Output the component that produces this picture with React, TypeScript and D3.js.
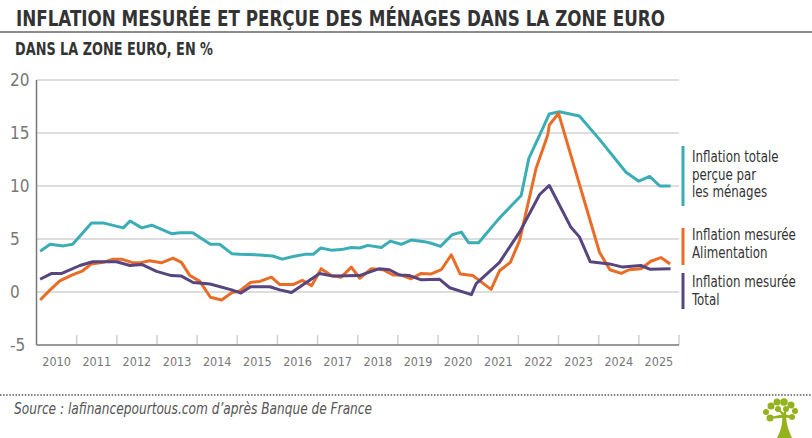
import { useRef, useEffect } from "react";
import * as d3 from "d3";

// Perceived inflation (households)
const perceivedDates = [
  2010.09, 2010.34, 2010.67, 2010.9, 2011.37, 2011.68, 2012.16, 2012.33, 2012.62, 2012.87,
  2013.36, 2013.57, 2013.89, 2014.33, 2014.56, 2014.87, 2015.06, 2015.56, 2015.88, 2016.12,
  2016.39, 2016.68, 2016.89, 2017.08, 2017.34, 2017.59, 2017.84, 2018.05, 2018.25, 2018.59,
  2018.81, 2019.08, 2019.33, 2019.66, 2019.83, 2020.06, 2020.35, 2020.58, 2020.76, 2021.01,
  2021.51, 2022.07, 2022.26, 2022.53, 2022.77, 2023.02, 2023.52, 2024.02, 2024.68, 2025.0,
  2025.27, 2025.52, 2025.79,
];
const perceivedValues = [
  3.85, 4.5, 4.35, 4.5, 6.5, 6.5, 6.05, 6.7, 6.05, 6.3,
  5.5, 5.6, 5.6, 4.5, 4.5, 3.6, 3.55, 3.5, 3.4, 3.1,
  3.35, 3.55, 3.55, 4.15, 3.95, 4.0, 4.2, 4.15, 4.4, 4.2,
  4.8, 4.5, 4.9, 4.75, 4.6, 4.3, 5.4, 5.65, 4.65, 4.65,
  6.9, 9.1, 12.6, 14.8, 16.8, 17.0, 16.6, 14.4, 11.3, 10.45,
  10.9, 10.0, 10.0,
];

// Measured inflation, food
const foodDates = [
  2010.09, 2010.34, 2010.58, 2010.88, 2011.15, 2011.37, 2011.66, 2011.91, 2012.12, 2012.41,
  2012.57, 2012.81, 2013.11, 2013.4, 2013.61, 2013.82, 2014.07, 2014.33, 2014.61, 2014.87,
  2015.06, 2015.33, 2015.56, 2015.85, 2016.06, 2016.39, 2016.62, 2016.85, 2017.09, 2017.34,
  2017.59, 2017.84, 2018.05, 2018.34, 2018.63, 2018.88, 2019.08, 2019.33, 2019.58, 2019.83,
  2020.08, 2020.33, 2020.55, 2020.86, 2021.32, 2021.53, 2021.8, 2022.03, 2022.44, 2022.73,
  2022.77, 2023.0, 2024.02, 2024.28, 2024.56, 2024.76, 2025.05, 2025.3, 2025.55, 2025.78,
];
const foodValues = [
  -0.75, 0.2, 1.05, 1.6, 2.0, 2.65, 2.8, 3.1, 3.1, 2.75,
  2.75, 2.95, 2.75, 3.2, 2.8, 1.55, 1.0, -0.5, -0.75, -0.05,
  0.1, 0.9, 1.0, 1.4, 0.7, 0.7, 1.1, 0.6, 2.2, 1.55,
  1.4, 2.35, 1.3, 2.2, 2.1, 1.6, 1.6, 1.25, 1.75, 1.7,
  2.1, 3.5, 1.7, 1.55, 0.25, 2.0, 2.8, 4.85, 11.65, 14.8,
  15.75, 16.85, 3.75, 2.1, 1.75, 2.1, 2.2, 2.9, 3.25, 2.65,
];

// Measured inflation, total
const totalDates = [
  2010.09, 2010.38, 2010.63, 2011.08, 2011.4, 2011.99, 2012.33, 2012.62, 2012.99, 2013.36,
  2013.61, 2013.9, 2014.32, 2014.86, 2015.09, 2015.33, 2015.81, 2016.06, 2016.35, 2017.05,
  2017.38, 2018.04, 2018.54, 2018.79, 2019.04, 2019.29, 2019.58, 2020.04, 2020.29, 2020.83,
  2020.95, 2021.53, 2022.03, 2022.53, 2022.77, 2023.31, 2023.52, 2023.79, 2024.27, 2024.6,
  2025.05, 2025.27, 2025.79,
];
const totalValues = [
  1.2, 1.75, 1.75, 2.5, 2.85, 2.85, 2.5, 2.6, 1.95, 1.55,
  1.5, 0.9, 0.75, 0.2, -0.1, 0.5, 0.5, 0.2, -0.05, 1.75,
  1.5, 1.55, 2.2, 2.1, 1.6, 1.55, 1.15, 1.2, 0.4, -0.25,
  0.8, 2.8, 5.65, 9.2, 10.05, 6.1, 5.2, 2.85, 2.65, 2.35,
  2.5, 2.15, 2.2,
];

const yearLabels = [
  2010, 2011, 2012, 2013, 2014, 2015, 2016, 2017, 2018, 2019, 2020, 2021, 2022, 2023, 2024, 2025,
];
const yTicks = [20, 15, 10, 5, 0, -5];

const TEAL = "#3badb6";
const ORANGE = "#e96d26";
const PURPLE = "#57457f";

const NARROW = "'Liberation Sans Narrow', 'DejaVu Sans Condensed', 'Arial Narrow', Lato, sans-serif";

export default function App() {
  const svgRef = useRef<SVGSVGElement>(null);
  const width = 812;
  const height = 438;

  useEffect(() => {
    if (!svgRef.current) return;
    const svg = d3.select(svgRef.current);
    svg.selectAll("*").remove();

    const x = d3.scaleLinear().domain([2010, 2026]).range([36.5, 679]);
    const y = d3.scaleLinear().domain([-5, 20]).range([345, 80]);

    // Title block
    svg.append("text")
      .attr("x", 16).attr("y", 26)
      .attr("font-family", NARROW).attr("font-weight", "bold")
      .attr("font-size", 21).attr("fill", "#333")
      .attr("textLength", 649).attr("lengthAdjust", "spacingAndGlyphs")
      .text("INFLATION MESURÉE ET PERÇUE DES MÉNAGES DANS LA ZONE EURO");
    svg.append("line")
      .attr("x1", 0).attr("x2", width).attr("y1", 32).attr("y2", 32)
      .attr("stroke", "#666").attr("stroke-width", 1.5);
    svg.append("text")
      .attr("x", 15).attr("y", 55)
      .attr("font-family", NARROW).attr("font-weight", "bold")
      .attr("font-size", 17).attr("fill", "#333")
      .attr("textLength", 198).attr("lengthAdjust", "spacingAndGlyphs")
      .text("DANS LA ZONE EURO, EN %");

    // Grid
    const grid = svg.append("g");
    grid.selectAll("line")
      .data(yTicks.filter((t) => t > -5))
      .join("line")
      .attr("x1", x(2010)).attr("x2", x(2026))
      .attr("y1", (d) => y(d)).attr("y2", (d) => y(d))
      .attr("stroke", "#d2d2d2").attr("stroke-width", 1.5);

    // Y labels, left aligned like the original
    svg.append("g").selectAll("text")
      .data(yTicks)
      .join("text")
      .attr("x", 10).attr("y", (d) => y(d))
      .attr("dy", "0.35em").attr("text-anchor", "start")
      .attr("font-family", NARROW).attr("font-size", 17).attr("fill", "#777")
      .text((d) => (d < 0 ? `-${Math.abs(d)}` : d));

    // X ticks (year boundaries)
    svg.append("g").selectAll("line")
      .data(d3.range(2011, 2027))
      .join("line")
      .attr("x1", (d) => x(d)).attr("x2", (d) => x(d))
      .attr("y1", y(-5) - 10).attr("y2", y(-5))
      .attr("stroke", "#cfcfcf").attr("stroke-width", 1.5);

    svg.append("g").selectAll("text")
      .data(yearLabels)
      .join("text")
      .attr("x", (d) => x(d + 0.5)).attr("y", 362)
      .attr("dy", "0.35em").attr("text-anchor", "middle")
      .attr("font-family", NARROW).attr("font-size", 12.5).attr("fill", "#777")
      .text((d) => d);

    // Axes
    svg.append("line")
      .attr("x1", x(2010)).attr("x2", x(2026)).attr("y1", y(-5)).attr("y2", y(-5))
      .attr("stroke", "#777").attr("stroke-width", 1.5);
    svg.append("line")
      .attr("x1", x(2010)).attr("x2", x(2010)).attr("y1", y(20)).attr("y2", y(-5))
      .attr("stroke", "#777").attr("stroke-width", 1.5);

    // Series
    const line = d3.line<[number, number]>()
      .x((d) => x(d[0]))
      .y((d) => y(d[1]));
    const series = [
      { dates: perceivedDates, values: perceivedValues, color: TEAL },
      { dates: foodDates, values: foodValues, color: ORANGE },
      { dates: totalDates, values: totalValues, color: PURPLE },
    ];
    series.forEach((s) => {
      svg.append("path")
        .datum(d3.zip(s.dates, s.values) as [number, number][])
        .attr("d", line)
        .attr("fill", "none")
        .attr("stroke", s.color)
        .attr("stroke-width", 3)
        .attr("stroke-linejoin", "round");
    });

    // Legend
    const legend = [
      { color: TEAL, y0: 146, y1: 206, lines: ["Inflation totale", "perçue par", "les ménages"], base: 162 },
      { color: ORANGE, y0: 228, y1: 265, lines: ["Inflation mesurée", "Alimentation"], base: 240 },
      { color: PURPLE, y0: 273, y1: 309, lines: ["Inflation mesurée", "Total"], base: 287 },
    ];
    legend.forEach((l) => {
      svg.append("line")
        .attr("x1", 683).attr("x2", 683).attr("y1", l.y0).attr("y2", l.y1)
        .attr("stroke", l.color).attr("stroke-width", 3);
      const t = svg.append("text")
        .attr("transform", `translate(692,${l.base}) scale(0.85,1)`)
        .attr("font-family", NARROW).attr("font-size", 15.5).attr("fill", "#333");
      l.lines.forEach((txt, i) => {
        t.append("tspan").attr("x", 0).attr("dy", i === 0 ? 0 : 17.7).text(txt);
      });
    });

    // Footer
    svg.append("line")
      .attr("x1", 0).attr("x2", width).attr("y1", 395).attr("y2", 395)
      .attr("stroke", "#555").attr("stroke-width", 1.5)
      .attr("stroke-dasharray", "1.5 1.6");
    svg.append("text")
      .attr("x", 14).attr("y", 414)
      .attr("font-family", NARROW).attr("font-style", "italic")
      .attr("font-size", 15).attr("fill", "#555")
      .attr("textLength", 358).attr("lengthAdjust", "spacingAndGlyphs")
      .text("Source : lafinancepourtous.com d’après Banque de France");

    // Tree logo
    const logo = svg.append("g").attr("fill", "#94b21c");
    logo.append("path")
      .attr("d", "M777,438 C781,430 783,424 782,414 L786,414 C786,424 789,431 792,438 Z");
    [
      [770, 418, 3.5], [766, 412, 3], [771, 406, 3.5], [777, 402, 3.5],
      [784, 402, 3.8], [791, 405, 3.5], [795, 411, 3], [792, 417, 3],
      [778, 409, 3], [786, 409, 3],
    ].forEach(([cx, cy, r]) => {
      logo.append("circle").attr("cx", cx).attr("cy", cy).attr("r", r);
    });
    logo.append("path")
      .attr("d", "M770,418 L783,415 L778,409 L784,414 L786,409 L785,415 L792,417 L784,417 Z")
      .attr("stroke", "#94b21c").attr("stroke-width", 1.5);
  }, []);

  return (
    <svg
      ref={svgRef}
      width={width}
      height={height}
      style={{ position: "absolute", left: 0, top: 0, display: "block", background: "#fff" }}
    />
  );
}
